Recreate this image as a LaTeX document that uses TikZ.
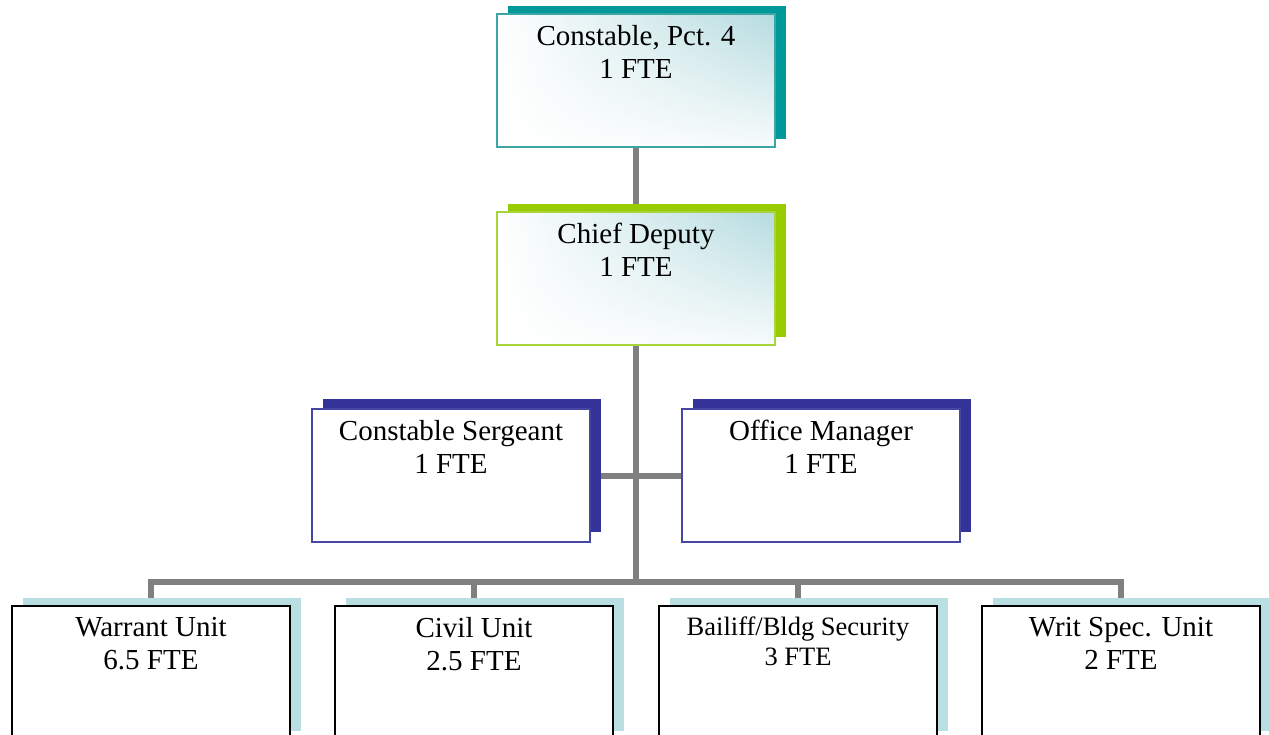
\documentclass[tikz,border=0pt]{standalone}
\usepackage{fontspec}
\setmainfont{Liberation Serif}
\usetikzlibrary{backgrounds,shadings}

\definecolor{tealdark}{HTML}{009999}
\definecolor{tealedge}{HTML}{3AA6A6}
\definecolor{tealtint}{HTML}{B5DBDF}
\definecolor{tealpale}{HTML}{F7FBFB}
\definecolor{limedark}{HTML}{99CC00}
\definecolor{limeedge}{HTML}{A9D43C}
\definecolor{navydark}{HTML}{333399}
\definecolor{navyedge}{HTML}{4747A3}
\definecolor{skypale}{HTML}{B9DFE2}
\definecolor{linkgray}{HTML}{808080}

\tikzset{
  orgbox/.style={rectangle, minimum width=278pt, minimum height=133pt,
    inner sep=0pt, outer sep=0pt, anchor=north west, line width=1.6pt},
  gradbox/.style={orgbox, draw=#1,
    upper left=white, upper right=tealtint,
    lower left=white, lower right=tealpale},
  plainbox/.style={orgbox, draw=#1, fill=white},
  lbl/.style={anchor=north, align=center, inner sep=0pt,
    font=\fontsize{29pt}{33pt}\selectfont},
  smalllbl/.style={lbl, font=\fontsize{26.5pt}{30pt}\selectfont},
  link/.style={draw=linkgray, line width=6pt, line join=miter},
}

\newcommand{\boxshadow}[4]{%
  \fill[#2] ([shift={(#3,#4)}]#1.south west) rectangle ([shift={(#3,#4)}]#1.north east);}

\begin{document}
\begin{tikzpicture}[x=1pt, y=-1pt]
\clip (0,0) rectangle (1269,735);

% top two levels
\node[gradbox=tealedge] (cp) at (497,14) {};
\node[lbl] (cpT) at ([yshift=-11pt]cp.north) {Constable, Pct. 4\\1 FTE};
\node[gradbox=limeedge] (cd) at (497,212) {};
\node[lbl] (cdT) at ([yshift=-11pt]cd.north) {Chief Deputy\\1 FTE};

% assistants
\node[plainbox=navyedge] (cs) at (312,409) {};
\node[lbl] (csT) at ([yshift=-11pt]cs.north) {Constable Sergeant\\1 FTE};
\node[plainbox=navyedge] (om) at (682,409) {};
\node[lbl] (omT) at ([yshift=-11pt]om.north) {Office Manager\\1 FTE};

% units
\node[plainbox=black] (wu) at (12,606) {};
\node[lbl] (wuT) at ([yshift=-11pt]wu.north) {Warrant Unit\\6.5 FTE};
\node[plainbox=black] (cu) at (335,606) {};
\node[lbl] (cuT) at ([yshift=-11pt]cu.north) {Civil Unit\\2.5 FTE};
\node[plainbox=black] (bs) at (659,606) {};
\node[smalllbl] (bsT) at ([yshift=-11pt]bs.north) {Bailiff/Bldg Security\\3 FTE};
\node[plainbox=black] (ws) at (982,606) {};
\node[lbl] (wsT) at ([yshift=-11pt]ws.north) {Writ Spec. Unit\\2 FTE};

\coordinate (hub) at (636,582);

\begin{scope}[on background layer]
  % connectors
  \draw[link] (cp.south) -- (cd.north);
  \draw[link] (cd.south) -- (hub);
  \draw[link] (cs.east) -- (om.west);
  \draw[link] (wu.north) -- (wu.north |- hub) -- (ws.north |- hub) -- (ws.north);
  \draw[link] (cu.north) -- (cu.north |- hub);
  \draw[link] (bs.north) -- (bs.north |- hub);
  % offset shadows
  \boxshadow{cp}{tealdark}{11pt}{8pt}
  \boxshadow{cd}{limedark}{11pt}{8pt}
  \boxshadow{cs}{navydark}{11pt}{10pt}
  \boxshadow{om}{navydark}{11pt}{10pt}
  \boxshadow{wu}{skypale}{11pt}{8pt}
  \boxshadow{cu}{skypale}{11pt}{8pt}
  \boxshadow{bs}{skypale}{11pt}{8pt}
  \boxshadow{ws}{skypale}{11pt}{8pt}
\end{scope}
\end{tikzpicture}
\end{document}
